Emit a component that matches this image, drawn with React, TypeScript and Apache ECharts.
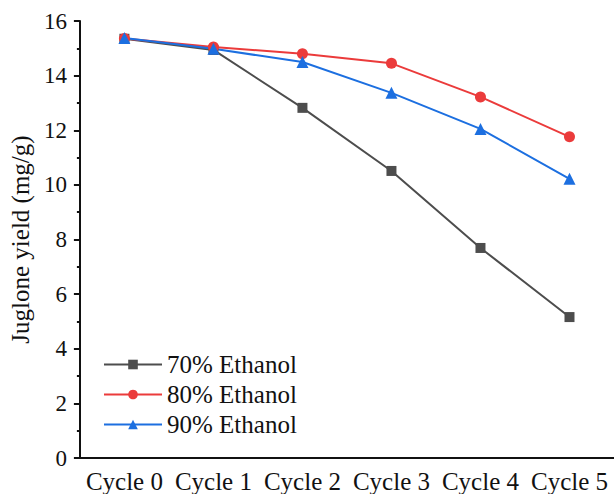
import React, { useEffect, useRef } from "react";
import * as echarts from "echarts";

const categories = ["Cycle 0", "Cycle 1", "Cycle 2", "Cycle 3", "Cycle 4", "Cycle 5"];
const ethanol70 = [15.35, 14.94, 12.82, 10.51, 7.69, 5.16];
const ethanol80 = [15.36, 15.05, 14.8, 14.45, 13.22, 11.76];
const ethanol90 = [15.38, 14.98, 14.5, 13.37, 12.05, 10.22];
const seriesNames = ["70% Ethanol", "80% Ethanol", "90% Ethanol"];

const FONT = "'Liberation Serif', 'Times New Roman', serif";

export default function App() {
  const ref = useRef<HTMLDivElement>(null);
  useEffect(() => {
    if (!ref.current) return;
    const chart = echarts.init(ref.current, undefined, { renderer: "svg" });
    const mk = (name: string, data: number[], color: string, symbol: string, size: number) => ({
      name,
      type: "line",
      data,
      symbol,
      symbolSize: size,
      lineStyle: { color, width: 2 },
      itemStyle: { color },
    });
    chart.setOption({
      animation: false,
      backgroundColor: "#ffffff",
      grid: { left: 75, right: 0, top: 21, bottom: 36 },
      legend: {
        left: 98,
        top: 347,
        orient: "vertical",
        itemGap: 5,
        itemWidth: 58,
        itemHeight: 12,
        textStyle: { fontFamily: FONT, fontSize: 25, color: "#111" },
        data: seriesNames,
      },
      xAxis: {
        type: "category",
        data: categories,
        boundaryGap: true,
        axisLine: { lineStyle: { color: "#111", width: 2 } },
        axisTick: { alignWithLabel: true, interval: 0, length: 7, lineStyle: { color: "#111", width: 2 } },
        axisLabel: { interval: 0, hideOverlap: false, fontFamily: FONT, fontSize: 25, color: "#111", margin: 11 },
      },
      yAxis: {
        type: "value",
        min: 0,
        max: 16,
        interval: 2,
        name: "Juglone yield (mg/g)",
        nameLocation: "middle",
        nameGap: 42,
        nameTextStyle: { fontFamily: FONT, fontSize: 25, color: "#111" },
        axisLine: { show: true, lineStyle: { color: "#111", width: 2 } },
        axisTick: { show: true, length: 6, lineStyle: { color: "#111", width: 2 } },
        minorTick: { show: true, splitNumber: 2, length: 3, lineStyle: { color: "#111", width: 2 } },
        splitLine: { show: false },
        axisLabel: { fontFamily: FONT, fontSize: 23, color: "#111", margin: 13 },
      },
      series: [
        mk(seriesNames[0], ethanol70, "#4d4d4d", "rect", 10),
        mk(seriesNames[1], ethanol80, "#eb3b3b", "circle", 11),
        mk(seriesNames[2], ethanol90, "#1c6fe0", "triangle", 12),
      ],
    });
    return () => chart.dispose();
  }, []);
  return (
    <div
      ref={ref}
      style={{ position: "fixed", left: 0, top: 0, width: 614, height: 494, background: "#fff" }}
    />
  );
}
